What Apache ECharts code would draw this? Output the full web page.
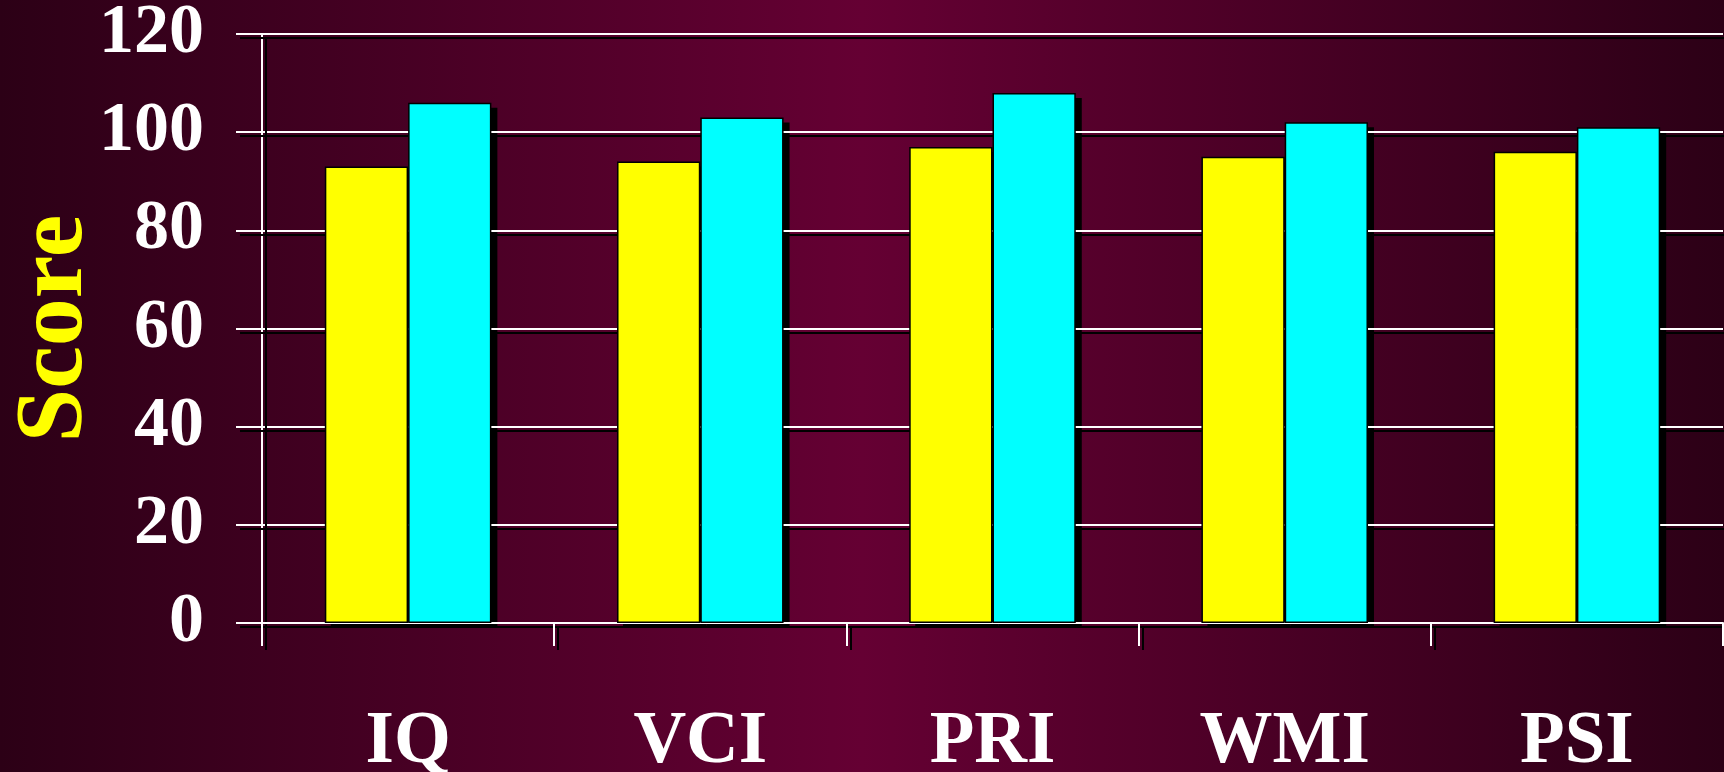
<!DOCTYPE html>
<html>
<head>
<meta charset="utf-8">
<title>Score</title>
<style>
    html, body { margin: 0; padding: 0; background: #2c0016; }
    #chart { width: 1724px; height: 772px; }
</style>
<script src="https://cdn.jsdelivr.net/npm/echarts@6/dist/echarts.min.js"></script>
</head>
<body>
<div id="chart"></div>
<script>
    // data
    const categories = ['IQ', 'VCI', 'PRI', 'WMI', 'PSI'];
    const yellowScores = [93, 94, 97, 95, 96];
    const cyanScores = [106, 103, 108, 102, 101];

    const chart = echarts.init(document.getElementById('chart'));
    window.onresize = function () {
        chart.resize();
    }

    const font = 'Liberation Serif';
    // white lines with a hard black drop shadow
    const whiteLine = {
        color: '#ffffff',
        width: 2,
        shadowColor: '#000000',
        shadowOffsetX: 4,
        shadowOffsetY: 4,
        shadowBlur: 0
    };
    const labelShadow = {
        textShadowColor: '#000000',
        textShadowOffsetX: 4,
        textShadowOffsetY: 4,
        textShadowBlur: 0
    };
    // bar drop shadow = same bars in a second grid moved 6px right, 5px down
    const sx = 6, sy = 5;
    const grid = { left: 262, right: 1, top: 34, bottom: 149 };

    chart.setOption({
        animation: false,
        backgroundColor: {
            type: 'linear',
            x: 0, y: 0, x2: 1, y2: 0,
            colorStops: [
                { offset: 0, color: '#2c0016' },
                { offset: 0.5, color: '#650033' },
                { offset: 1, color: '#2c0016' }
            ]
        },
        grid: [
            Object.assign({ outerBoundsMode: 'none' }, grid),
            {
                outerBoundsMode: 'none',
                left: grid.left + sx,
                right: grid.right - sx,
                top: grid.top + sy,
                bottom: grid.bottom - sy
            }
        ],
        xAxis: [
            {
                type: 'category',
                data: categories,
                gridIndex: 0,
                z: 1,
                axisLine: { lineStyle: whiteLine },
                axisTick: {
                    show: true,
                    length: 23,
                    lineStyle: whiteLine
                },
                axisLabel: Object.assign({
                    margin: 84,
                    color: '#ffffff',
                    fontFamily: font,
                    fontWeight: 'bold',
                    fontSize: 73
                }, labelShadow),
                splitLine: { show: false }
            },
            {
                type: 'category',
                data: categories,
                gridIndex: 1,
                show: false
            }
        ],
        yAxis: [
            {
                type: 'value',
                gridIndex: 0,
                min: 0,
                max: 120,
                interval: 20,
                z: 1,
                name: 'Score',
                nameLocation: 'middle',
                nameGap: 158,
                nameMoveOverlap: false,
                nameRotate: 90,
                nameTextStyle: {
                    color: '#ffff00',
                    fontFamily: font,
                    fontWeight: 'bold',
                    fontSize: 96,
                    textShadowColor: '#000000',
                    textShadowOffsetX: 3,
                    textShadowOffsetY: 3,
                    textShadowBlur: 0
                },
                axisLine: { show: true, lineStyle: whiteLine },
                axisTick: {
                    show: true,
                    length: 26,
                    lineStyle: whiteLine
                },
                axisLabel: Object.assign({
                    margin: 58,
                    color: '#ffffff',
                    fontFamily: font,
                    fontWeight: 'bold',
                    fontSize: 70,
                    padding: [12, 0, 0, 0]
                }, labelShadow),
                splitLine: { show: true, lineStyle: whiteLine }
            },
            {
                type: 'value',
                gridIndex: 1,
                min: 0,
                max: 120,
                interval: 20,
                show: false
            }
        ],
        series: [
            {
                name: 'A shadow',
                type: 'bar',
                xAxisIndex: 1,
                yAxisIndex: 1,
                z: 0,
                data: yellowScores,
                barGap: '0%',
                barCategoryGap: '43%',
                itemStyle: { color: '#000000' }
            },
            {
                name: 'B shadow',
                type: 'bar',
                xAxisIndex: 1,
                yAxisIndex: 1,
                z: 0,
                data: cyanScores,
                itemStyle: { color: '#000000' }
            },
            {
                name: 'A',
                type: 'bar',
                z: 2,
                data: yellowScores,
                barGap: '0%',
                barCategoryGap: '43%',
                itemStyle: { color: '#ffff00', borderColor: '#000000', borderWidth: 1.5 }
            },
            {
                name: 'B',
                type: 'bar',
                z: 2,
                data: cyanScores,
                itemStyle: { color: '#00ffff', borderColor: '#000000', borderWidth: 1.5 }
            }
        ]
    });
</script>
</body>
</html>
